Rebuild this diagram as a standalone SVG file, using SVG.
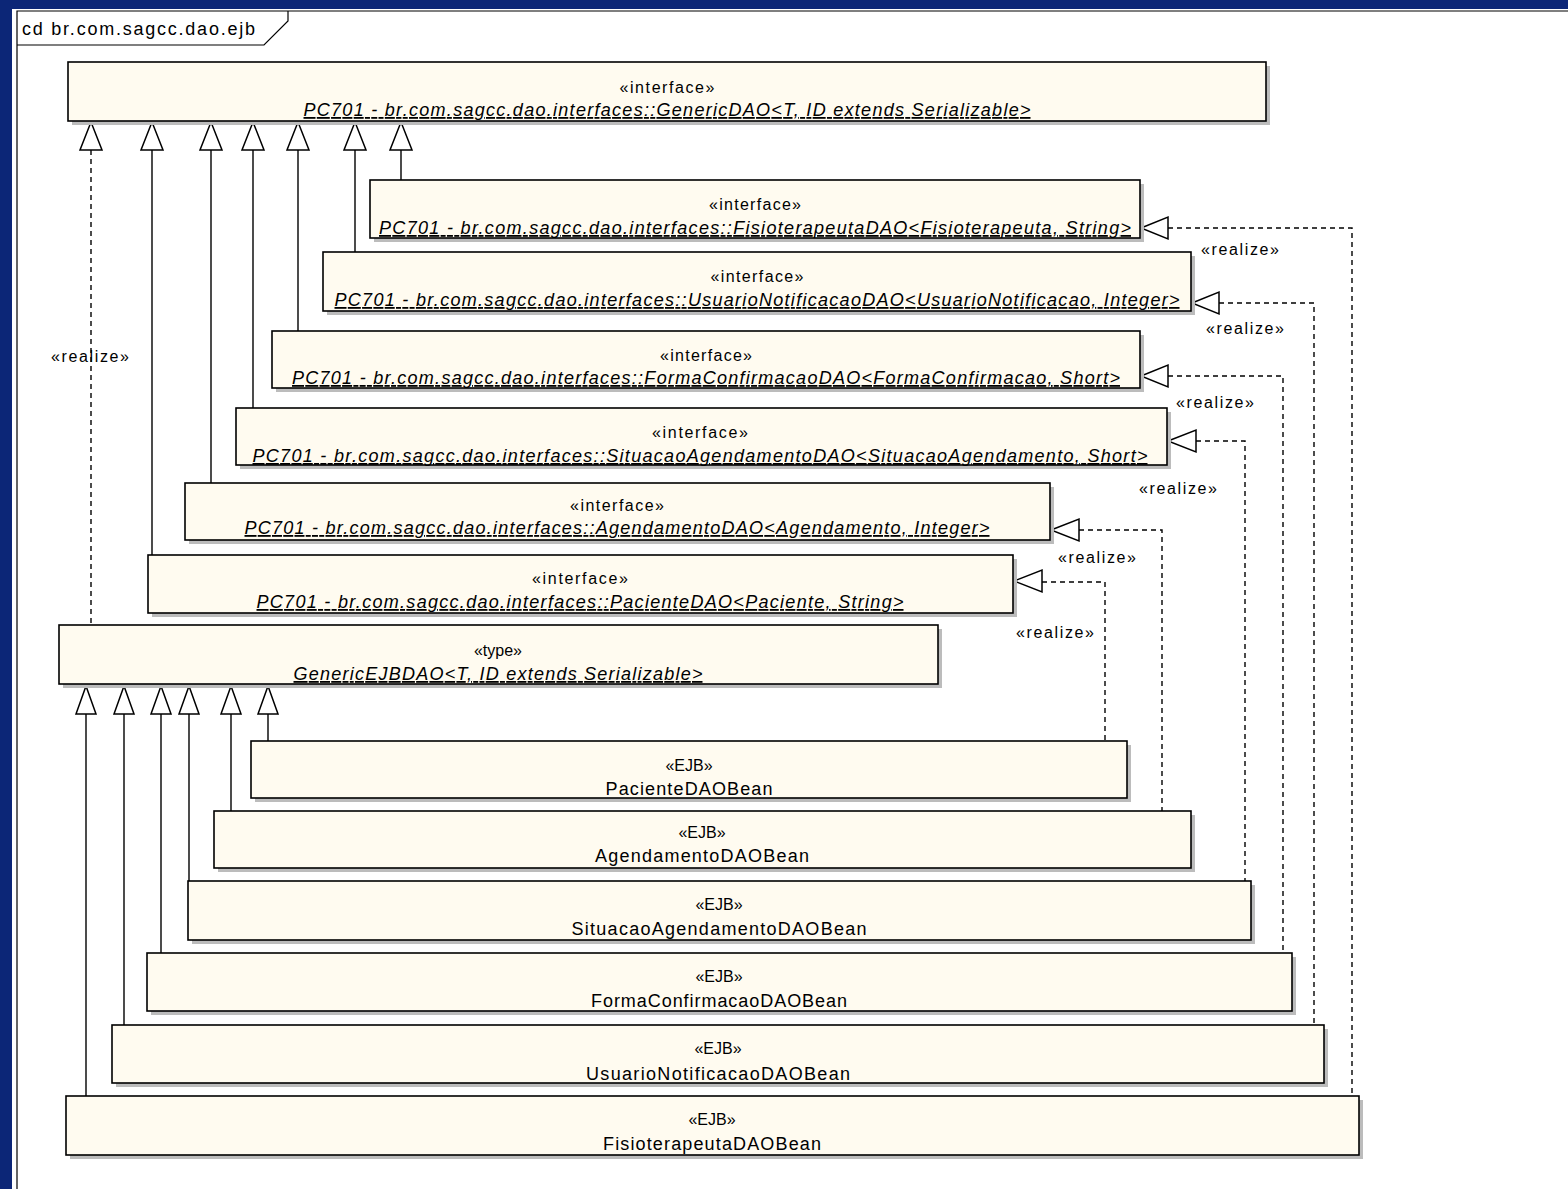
<svg xmlns="http://www.w3.org/2000/svg" width="1568" height="1189" viewBox="0 0 1568 1189">
  <style>
    .box { fill: #fffbf0; stroke: #000; stroke-width: 1.6; }
    .shadow { fill: #bcbcbc; }
    .st { font-family: "Liberation Sans", Arial, sans-serif; font-size: 16px; fill: #000; text-anchor: middle; }
    .nm { font-family: "Liberation Sans", Arial, sans-serif; font-size: 18px; fill: #000; text-anchor: middle; }
    .it { font-style: italic; text-decoration: underline; }
    .lbl { font-family: "Liberation Sans", Arial, sans-serif; font-size: 16px; fill: #000; text-anchor: middle; }
    .gen { stroke: #000; stroke-width: 1.4; fill: none; }
    .real { stroke: #000; stroke-width: 1.4; fill: none; stroke-dasharray: 5 4; }
    .head { fill: #fff; stroke: #000; stroke-width: 1.5; }
  </style>

  <!-- page background and frame -->
  <rect x="0" y="0" width="1568" height="1189" fill="#0c2677"/>
  <rect x="12" y="9" width="1556" height="1180" fill="#ffffff"/>
  <g id="frame">
    <path d="M17,1189 L17,11 L1568,11" fill="none" stroke="#000" stroke-width="1.2"/>
    <path d="M17,45 L264,45 L288,21 L288,11" fill="none" stroke="#000" stroke-width="1.2"/>
    <text x="22" y="35" font-family="Liberation Sans, Arial, sans-serif" font-size="18" textLength="233" lengthAdjust="spacing">cd br.com.sagcc.dao.ejb</text>
  </g>

  <!-- connectors -->
  <g id="connectors">
    <!-- generalizations to GenericDAO -->
    <path class="gen" d="M152,150 V555 M211,150 V483 M253,150 V408 M298,150 V331 M355,150 V252 M401,150 V180"/>
    <!-- GenericEJBDAO realizes GenericDAO -->
    <path class="real" d="M91,150 V625"/>
    <!-- generalizations to GenericEJBDAO -->
    <path class="gen" d="M268,714 V741 M231,714 V811 M189,714 V881 M161,714 V953 M124,714 V1025 M86,714 V1096"/>
    <!-- beans realize their DAO interfaces -->
    <path class="real" d="M1168,228 H1352 V1096"/>
    <path class="real" d="M1219,303 H1314 V1025"/>
    <path class="real" d="M1168,376 H1283 V953"/>
    <path class="real" d="M1196,441 H1245 V881"/>
    <path class="real" d="M1079,530 H1162 V811"/>
    <path class="real" d="M1042,582 H1105 V741"/>

    <!-- hollow triangle heads, pointing up -->
    <g class="head">
      <path d="M91,122 L80,150 L102,150 Z"/>
      <path d="M152,122 L141,150 L163,150 Z"/>
      <path d="M211,122 L200,150 L222,150 Z"/>
      <path d="M253,122 L242,150 L264,150 Z"/>
      <path d="M298,122 L287,150 L309,150 Z"/>
      <path d="M355,122 L344,150 L366,150 Z"/>
      <path d="M401,122 L390,150 L412,150 Z"/>
      <path d="M86,686 L76,714 L96,714 Z"/>
      <path d="M124,686 L114,714 L134,714 Z"/>
      <path d="M161,686 L151,714 L171,714 Z"/>
      <path d="M189,686 L179,714 L199,714 Z"/>
      <path d="M231,686 L221,714 L241,714 Z"/>
      <path d="M268,686 L258,714 L278,714 Z"/>
      <!-- pointing left -->
      <path d="M1141,228 L1168,217 L1168,239 Z"/>
      <path d="M1192,303 L1219,292 L1219,314 Z"/>
      <path d="M1141,376 L1168,365 L1168,387 Z"/>
      <path d="M1168,441 L1196,430 L1196,452 Z"/>
      <path d="M1051,530 L1079,519 L1079,541 Z"/>
      <path d="M1014,581 L1042,570 L1042,592 Z"/>
    </g>

    <text class="lbl" x="90" y="362" textLength="78" lengthAdjust="spacing">«realize»</text>
    <text class="lbl" x="1240" y="255" textLength="78" lengthAdjust="spacing">«realize»</text>
    <text class="lbl" x="1245" y="334" textLength="78" lengthAdjust="spacing">«realize»</text>
    <text class="lbl" x="1215" y="408" textLength="78" lengthAdjust="spacing">«realize»</text>
    <text class="lbl" x="1178" y="494" textLength="78" lengthAdjust="spacing">«realize»</text>
    <text class="lbl" x="1097" y="563" textLength="78" lengthAdjust="spacing">«realize»</text>
    <text class="lbl" x="1055" y="638" textLength="78" lengthAdjust="spacing">«realize»</text>
  </g>

  <!-- interfaces -->
  <g id="GenericDAO">
    <rect class="shadow" x="72" y="66" width="1198" height="59"/>
    <rect class="box" x="68" y="62" width="1198" height="59"/>
    <text class="st" x="667" y="93" textLength="95" lengthAdjust="spacing">«interface»</text>
    <text class="nm it" x="667" y="116" textLength="727" lengthAdjust="spacing">PC701 - br.com.sagcc.dao.interfaces::GenericDAO&lt;T, ID extends Serializable&gt;</text>
  </g>
  <g id="FisioterapeutaDAO">
    <rect class="shadow" x="374" y="184" width="770" height="58"/>
    <rect class="box" x="370" y="180" width="770" height="58"/>
    <text class="st" x="755" y="210" textLength="92" lengthAdjust="spacing">«interface»</text>
    <text class="nm it" x="755" y="234" textLength="752" lengthAdjust="spacing">PC701 - br.com.sagcc.dao.interfaces::FisioterapeutaDAO&lt;Fisioterapeuta, String&gt;</text>
  </g>
  <g id="UsuarioNotificacaoDAO">
    <rect class="shadow" x="327" y="256" width="868" height="59"/>
    <rect class="box" x="323" y="252" width="868" height="59"/>
    <text class="st" x="757" y="282" textLength="93" lengthAdjust="spacing">«interface»</text>
    <text class="nm it" x="757" y="306" textLength="845" lengthAdjust="spacing">PC701 - br.com.sagcc.dao.interfaces::UsuarioNotificacaoDAO&lt;UsuarioNotificacao, Integer&gt;</text>
  </g>
  <g id="FormaConfirmacaoDAO">
    <rect class="shadow" x="276" y="335" width="868" height="57"/>
    <rect class="box" x="272" y="331" width="868" height="57"/>
    <text class="st" x="706" y="361" textLength="92" lengthAdjust="spacing">«interface»</text>
    <text class="nm it" x="706" y="384" textLength="828" lengthAdjust="spacing">PC701 - br.com.sagcc.dao.interfaces::FormaConfirmacaoDAO&lt;FormaConfirmacao, Short&gt;</text>
  </g>
  <g id="SituacaoAgendamentoDAO">
    <rect class="shadow" x="240" y="412" width="931" height="57"/>
    <rect class="box" x="236" y="408" width="931" height="57"/>
    <text class="st" x="700" y="438" textLength="96" lengthAdjust="spacing">«interface»</text>
    <text class="nm it" x="700" y="462" textLength="895" lengthAdjust="spacing">PC701 - br.com.sagcc.dao.interfaces::SituacaoAgendamentoDAO&lt;SituacaoAgendamento, Short&gt;</text>
  </g>
  <g id="AgendamentoDAO">
    <rect class="shadow" x="189" y="487" width="865" height="57"/>
    <rect class="box" x="185" y="483" width="865" height="57"/>
    <text class="st" x="617" y="511" textLength="94" lengthAdjust="spacing">«interface»</text>
    <text class="nm it" x="617" y="534" textLength="745" lengthAdjust="spacing">PC701 - br.com.sagcc.dao.interfaces::AgendamentoDAO&lt;Agendamento, Integer&gt;</text>
  </g>
  <g id="PacienteDAO">
    <rect class="shadow" x="152" y="559" width="865" height="58"/>
    <rect class="box" x="148" y="555" width="865" height="58"/>
    <text class="st" x="580" y="584" textLength="96" lengthAdjust="spacing">«interface»</text>
    <text class="nm it" x="580" y="608" textLength="647" lengthAdjust="spacing">PC701 - br.com.sagcc.dao.interfaces::PacienteDAO&lt;Paciente, String&gt;</text>
  </g>

  <!-- generic EJB base type -->
  <g id="GenericEJBDAO">
    <rect class="shadow" x="63" y="629" width="879" height="59"/>
    <rect class="box" x="59" y="625" width="879" height="59"/>
    <text class="st" x="498" y="656">«type»</text>
    <text class="nm it" x="498" y="680" textLength="409" lengthAdjust="spacing">GenericEJBDAO&lt;T, ID extends Serializable&gt;</text>
  </g>

  <!-- session beans -->
  <g id="PacienteDAOBean">
    <rect class="shadow" x="255" y="745" width="876" height="57"/>
    <rect class="box" x="251" y="741" width="876" height="57"/>
    <text class="st" x="689" y="771">«EJB»</text>
    <text class="nm" x="689" y="795" textLength="167" lengthAdjust="spacing">PacienteDAOBean</text>
  </g>
  <g id="AgendamentoDAOBean">
    <rect class="shadow" x="218" y="815" width="977" height="57"/>
    <rect class="box" x="214" y="811" width="977" height="57"/>
    <text class="st" x="702" y="838">«EJB»</text>
    <text class="nm" x="702" y="862" textLength="214" lengthAdjust="spacing">AgendamentoDAOBean</text>
  </g>
  <g id="SituacaoAgendamentoDAOBean">
    <rect class="shadow" x="192" y="885" width="1063" height="59"/>
    <rect class="box" x="188" y="881" width="1063" height="59"/>
    <text class="st" x="719" y="910">«EJB»</text>
    <text class="nm" x="719" y="935" textLength="295" lengthAdjust="spacing">SituacaoAgendamentoDAOBean</text>
  </g>
  <g id="FormaConfirmacaoDAOBean">
    <rect class="shadow" x="151" y="957" width="1145" height="58"/>
    <rect class="box" x="147" y="953" width="1145" height="58"/>
    <text class="st" x="719" y="982">«EJB»</text>
    <text class="nm" x="719" y="1007" textLength="256" lengthAdjust="spacing">FormaConfirmacaoDAOBean</text>
  </g>
  <g id="UsuarioNotificacaoDAOBean">
    <rect class="shadow" x="116" y="1029" width="1212" height="58"/>
    <rect class="box" x="112" y="1025" width="1212" height="58"/>
    <text class="st" x="718" y="1054">«EJB»</text>
    <text class="nm" x="718" y="1080" textLength="264" lengthAdjust="spacing">UsuarioNotificacaoDAOBean</text>
  </g>
  <g id="FisioterapeutaDAOBean">
    <rect class="shadow" x="70" y="1100" width="1293" height="59"/>
    <rect class="box" x="66" y="1096" width="1293" height="59"/>
    <text class="st" x="712" y="1125">«EJB»</text>
    <text class="nm" x="712" y="1150" textLength="218" lengthAdjust="spacing">FisioterapeutaDAOBean</text>
  </g>
</svg>
